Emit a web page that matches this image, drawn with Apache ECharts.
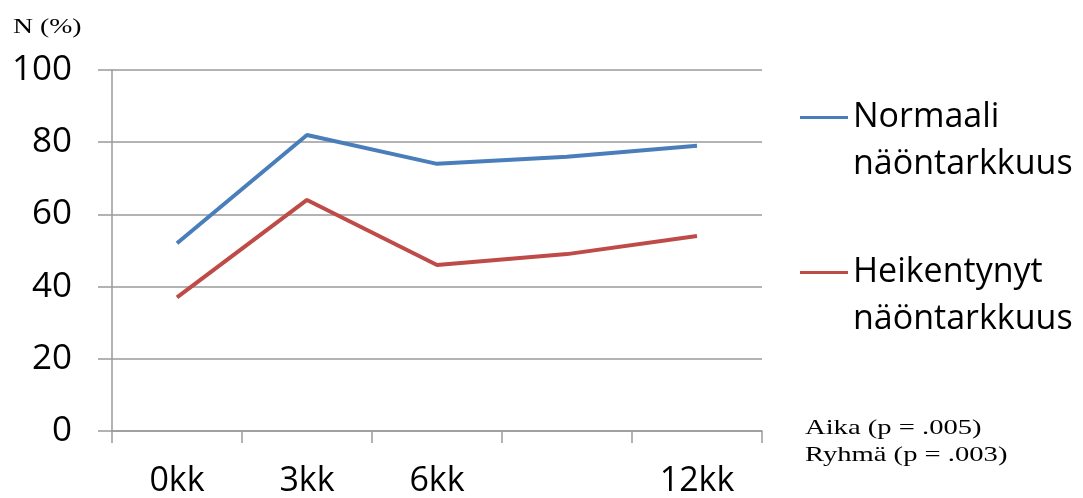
<!DOCTYPE html>
<html>
<head>
<meta charset="utf-8">
<script src="https://cdn.jsdelivr.net/npm/echarts@6/dist/echarts.min.js"></script>
<style>
  html, body { margin: 0; padding: 0; background: #fff; }
  #chart { width: 1083px; height: 498px; }
</style>
</head>
<body>
<div id="chart"></div>
<script>
// Time points (the fourth follow-up has no label on the axis)
const categories = ['0kk', '3kk', '6kk', '', '12kk'];

// Share of patients (%) per group
const seriesNames = ['Normaali näöntarkkuus', 'Heikentynyt näöntarkkuus'];
const normaali = [52, 82, 74, 76, 79];
const heikentynyt = [37, 64, 46, 49, 54];

// Y axis range
const yMin = 0, yMax = 100, yStep = 20;

// Statistical notes
const notes = ['Aika (p = .005)', 'Ryhmä (p = .003)'];
const yTitle = 'N (%)';

const FONT = '"Open Sans", "DejaVu Sans", sans-serif';
const SERIF = '"Liberation Serif", "DejaVu Serif", serif';
const GRAY = '#9a9a9a';

const chart = echarts.init(document.getElementById('chart'), null, { renderer: 'canvas' });

chart.setOption({
  backgroundColor: '#ffffff',
  animation: false,
  grid: { left: 112, right: 321, top: 70, bottom: 66, containLabel: false },
  xAxis: {
    type: 'category',
    data: categories,
    boundaryGap: true,
    axisLine: { show: true, lineStyle: { color: GRAY, width: 1.5 } },
    axisTick: { show: true, length: 12, alignWithLabel: false, interval: 0, lineStyle: { color: GRAY, width: 1.5 } },
    axisLabel: { interval: 0, margin: 33, fontFamily: FONT, fontSize: 34, color: '#000' },
    splitLine: { show: false }
  },
  yAxis: {
    type: 'value',
    min: yMin, max: yMax, interval: yStep,
    axisLine: { show: true, lineStyle: { color: GRAY, width: 1.5 } },
    axisTick: { show: true, length: 14, lineStyle: { color: GRAY, width: 1.5 } },
    axisLabel: { margin: 40, fontFamily: FONT, fontSize: 35, color: '#000' },
    splitLine: { show: true, lineStyle: { color: GRAY, width: 1.5 } }
  },
  legend: {
    orient: 'vertical',
    left: 795,
    top: 42,
    itemWidth: 48,
    itemHeight: 3,
    itemGap: 14,
    icon: 'rect',
    data: seriesNames,
    formatter: name => ' \n' + name.replace(' ', '\n'),
    textStyle: { fontFamily: FONT, fontSize: 34, lineHeight: 47, color: '#000' }
  },
  graphic: [
    {
      type: 'text', left: 13, top: 17, scaleX: 1.32,
      style: { text: yTitle, font: '21px ' + SERIF, fill: '#000' }
    },
    {
      type: 'text', left: 805, top: 415, scaleX: 1.33,
      style: { text: notes.join('\n'), font: '21.5px ' + SERIF, lineHeight: 27, fill: '#000' }
    }
  ],
  series: [
    {
      name: seriesNames[0], type: 'line', data: normaali,
      symbol: 'none', smooth: false,
      lineStyle: { color: '#4A7EBB', width: 4 },
      itemStyle: { color: '#4A7EBB' }
    },
    {
      name: seriesNames[1], type: 'line', data: heikentynyt,
      symbol: 'none', smooth: false,
      lineStyle: { color: '#BE4B48', width: 4 },
      itemStyle: { color: '#BE4B48' }
    }
  ]
});
</script>
</body>
</html>
